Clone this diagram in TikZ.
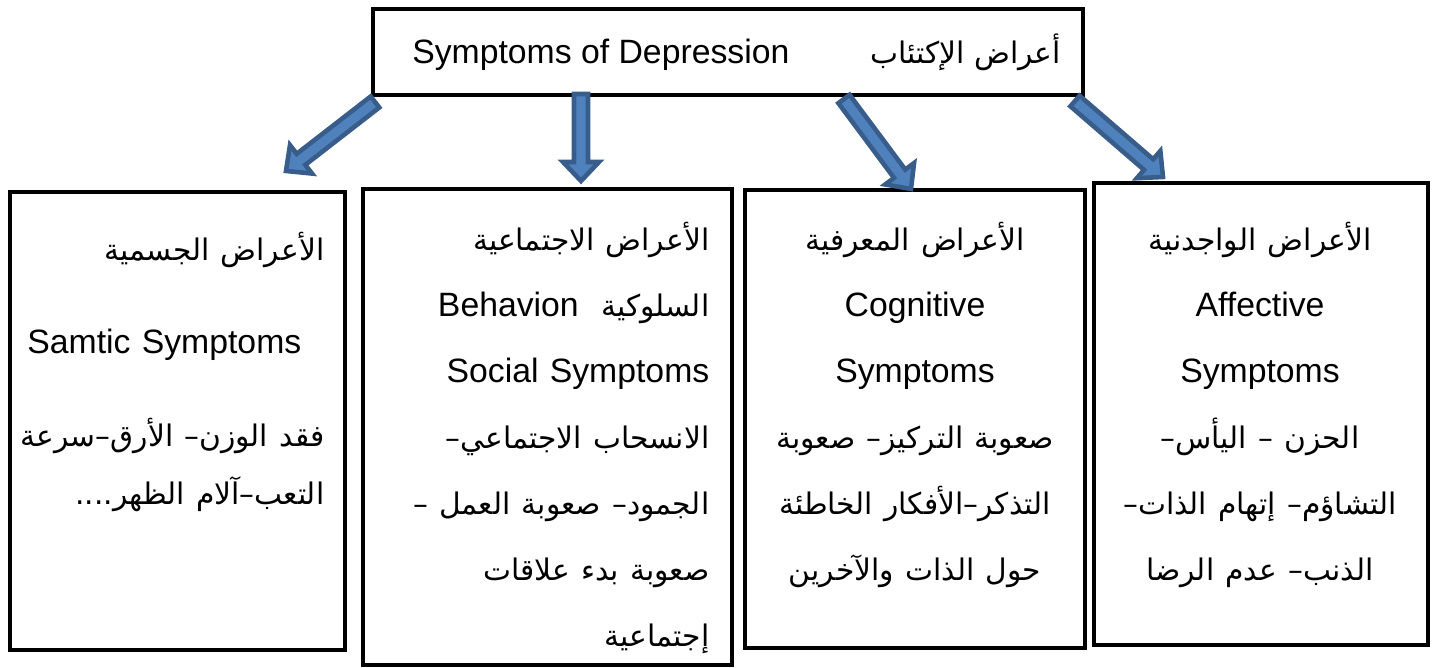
\documentclass[tikz,border=0pt]{standalone}
\usepackage{fontspec}
\setmainfont{Liberation Sans}
\newfontfamily\arabicfont[Script=Arabic,Scale=0.88]{DejaVu Sans}
\TeXXeTstate=1
\usetikzlibrary{calc,positioning}
\definecolor{arrowfill}{HTML}{4F81BD}
\definecolor{arrowedge}{HTML}{385D8A}
\newcommand\ar[1]{{\arabicfont\beginR #1\endR}}
\newcommand\shaftw{0.7mm}
\newcommand\headw{1.8mm}
\newcommand\headl{1.9mm}
% block arrow from tail #1 to tip #2
\newcommand\blockarrow[2]{%
  \coordinate (#1-b) at ($(#2)!\headl!(#1)$);
  \filldraw[blockarr] ($(#1)!\shaftw!90:(#2)$) -- ($(#1-b)!\shaftw!90:(#2)$)
    -- ($(#1-b)!\headw!90:(#2)$) -- (#2) -- ($(#1-b)!\headw!-90:(#2)$)
    -- ($(#1-b)!\shaftw!-90:(#2)$) -- ($(#1)!\shaftw!-90:(#2)$) -- cycle;}

\begin{document}
\begin{tikzpicture}[x=0.01cm, y=-0.01cm,
box/.style={draw=black,line width=1.3pt,inner sep=0pt},
txt/.style={inner sep=0pt,font=\fontsize{9.6}{18.8}\selectfont},
blockarr/.style={fill=arrowfill,draw=arrowedge,line width=1.3pt,line join=miter}]
\useasboundingbox (0,0) rectangle (1432,668);
% top box
\node[box,minimum width=7.1cm,minimum height=0.86cm,txt] (top) at (728,52)
  {\hspace*{1.7mm}Symptoms of Depression\hspace{8.1mm}\ar{أعراض الإكتئاب}};
% the four boxes
\node[box,minimum width=3.35cm,minimum height=4.58cm] (soma) at (177.5,421) {};
\node[box,minimum width=3.69cm,minimum height=4.76cm] (social) at (547.5,427) {};
\node[box,minimum width=3.40cm,minimum height=4.58cm] (cogn) at (915,419) {};
\node[box,minimum width=3.34cm,minimum height=4.62cm] (affect) at (1261,414) {};
% texts
\node[txt,text width=3.4cm,align=right,anchor=north east] (somatxt) at (325,231)
  {\ar{الأعراض الجسمية}\\[2.7mm]
   Samtic Symptoms\hspace*{2.3mm}\mbox{}\\[2.7mm]
   \ar{فقد الوزن– الأرق–سرعة}\\[-0.8mm]
   \ar{التعب–آلام الظهر....}};
\node[txt,text width=3.6cm,align=right,anchor=north east] (socialtxt) at (710,221)
  {\ar{الأعراض الاجتماعية}\\
   \ar{السلوكية\ \ \beginL{\rmfamily Behavion}\endL}\\
   Social Symptoms\\
   \ar{الانسحاب الاجتماعي–}\\
   \ar{الجمود– صعوبة العمل –}\\
   \ar{صعوبة بدء علاقات}\\
   \ar{إجتماعية}};
\node[txt,text width=3.4cm,align=center,anchor=north] (cogntxt) at (915,221)
  {\ar{الأعراض المعرفية}\\
   Cognitive\\
   Symptoms\\
   \ar{صعوبة التركيز– صعوبة}\\
   \ar{التذكر–الأفكار الخاطئة}\\
   \ar{حول الذات والآخرين}};
\node[txt,text width=3.3cm,align=center,anchor=north] (affecttxt) at (1260,221)
  {\ar{الأعراض الواجدنية}\\
   Affective\\
   Symptoms\\
   \ar{الحزن – اليأس–}\\
   \ar{التشاؤم– إتهام الذات–}\\
   \ar{الذنب– عدم الرضا}};
% arrows
\coordinate (t1) at (375,102); \coordinate (h1) at (286,171);
\coordinate (t2) at (581,94);  \coordinate (h2) at (581,181);
\coordinate (t3) at (844,99);  \coordinate (h3) at (911,189);
\coordinate (t4) at (1075,101); \coordinate (h4) at (1163,177);
\blockarrow{t1}{h1}
\blockarrow{t2}{h2}
\blockarrow{t3}{h3}
\blockarrow{t4}{h4}
\end{tikzpicture}
\end{document}
